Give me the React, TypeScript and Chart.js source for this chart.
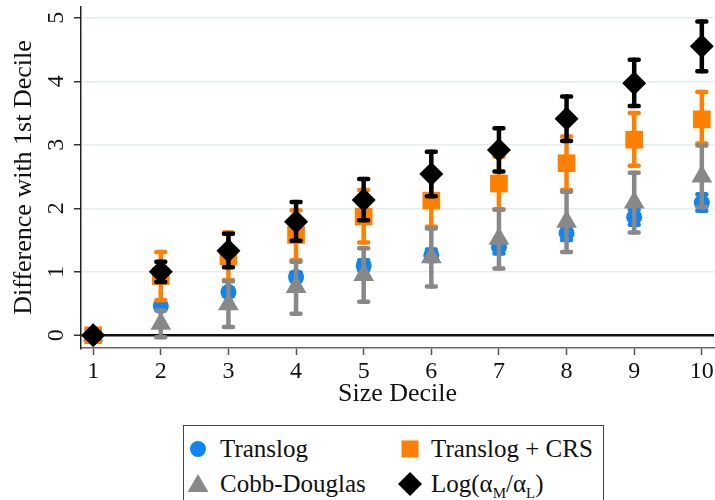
import React, { useEffect, useRef } from "react";
import { Chart, registerables } from "chart.js";

Chart.register(...registerables);

const FONT = "'Liberation Serif', 'Times New Roman', serif";

const deciles = [1, 2, 3, 4, 5, 6, 7, 8, 9, 10];
const yTickValues = [0, 1, 2, 3, 4, 5];

const translog = [0, 0.46, 0.68, 0.92, 1.1, 1.26, 1.39, 1.61, 1.86, 2.09];
const translogLo = [0, 0.41, 0.62, 0.85, 1.02, 1.17, 1.29, 1.5, 1.74, 1.96];
const translogHi = [0, 0.51, 0.74, 0.99, 1.18, 1.35, 1.49, 1.72, 1.98, 2.22];

const translogCRS = [0, 0.93, 1.24, 1.58, 1.87, 2.12, 2.39, 2.71, 3.08, 3.4];
const translogCRSLo = [0, 0.55, 0.87, 1.18, 1.46, 1.71, 1.98, 2.29, 2.67, 3.02];
const translogCRSHi = [0, 1.31, 1.62, 1.97, 2.29, 2.53, 2.81, 3.13, 3.5, 3.83];

const cobbDouglas = [0, 0.18, 0.49, 0.76, 0.95, 1.23, 1.52, 1.79, 2.09, 2.5];
const cobbDouglasLo = [0, -0.03, 0.13, 0.34, 0.53, 0.77, 1.05, 1.31, 1.62, 2.02];
const cobbDouglasHi = [0, 0.39, 0.85, 1.16, 1.37, 1.68, 1.98, 2.26, 2.56, 2.99];

const logRatio = [0, 1.0, 1.33, 1.79, 2.13, 2.54, 2.92, 3.41, 3.97, 4.55];
const logRatioLo = [0, 0.84, 1.07, 1.49, 1.81, 2.19, 2.58, 3.06, 3.61, 4.16];
const logRatioHi = [0, 1.16, 1.6, 2.1, 2.46, 2.89, 3.26, 3.76, 4.34, 4.94];

const BLUE = "#0f85f2";
const ORANGE = "#ff8000";
const GRAY = "#888888";
const BLACK = "#000000";

const errorBarPlugin = {
  id: "errorBars",
  beforeDatasetDraw(chart: any, args: any) {
    const ds: any = chart.data.datasets[args.index];
    if (!ds.errLo) return;
    const yScale = chart.scales.y;
    const ctx = chart.ctx;
    ctx.save();
    ctx.strokeStyle = ds.errColor;
    ctx.lineCap = "round";
    args.meta.data.forEach((pt: any, i: number) => {
      const lo = ds.errLo[i];
      const hi = ds.errHi[i];
      if (lo === hi) return;
      const x = pt.x;
      const y1 = yScale.getPixelForValue(lo);
      const y2 = yScale.getPixelForValue(hi);
      ctx.lineWidth = 4.5;
      ctx.beginPath();
      ctx.moveTo(x, y1);
      ctx.lineTo(x, y2);
      ctx.stroke();
      ctx.lineWidth = 4.5;
      ctx.beginPath();
      ctx.moveTo(x - 4.5, y1);
      ctx.lineTo(x + 4.5, y1);
      ctx.moveTo(x - 4.5, y2);
      ctx.lineTo(x + 4.5, y2);
      ctx.stroke();
    });
    ctx.restore();
  },
};

function toPoints(vals: number[]) {
  return deciles.map((d, i) => ({ x: d, y: vals[i] }));
}

function LegendMarker({ kind, color }: { kind: string; color: string }) {
  let shape: React.ReactNode = null;
  if (kind === "circle") shape = <circle cx={12} cy={12} r={8} fill={color} />;
  if (kind === "square") shape = <rect x={3.5} y={3.5} width={17} height={17} fill={color} />;
  if (kind === "triangle") shape = <polygon points="12,2 22.4,20 1.6,20" fill={color} />;
  if (kind === "diamond") shape = <polygon points="12,0 24,12 12,24 0,12" fill={color} />;
  return (
    <svg width={24} height={24} style={{ position: "absolute", left: -12, top: -12 }}>
      {shape}
    </svg>
  );
}

function LegendItem({ mx, my, tx, kind, color, children }: any) {
  return (
    <>
      <div style={{ position: "absolute", left: mx, top: my, width: 0, height: 0 }}>
        <LegendMarker kind={kind} color={color} />
      </div>
      <div
        style={{
          position: "absolute",
          left: tx,
          top: my - 16,
          height: 32,
          lineHeight: "32px",
          whiteSpace: "nowrap",
          color: "#111",
        }}
      >
        {children}
      </div>
    </>
  );
}

export default function App() {
  const canvasRef = useRef<HTMLCanvasElement | null>(null);

  useEffect(() => {
    if (!canvasRef.current) return;
    const chart = new Chart(canvasRef.current, {
      type: "scatter",
      data: {
        datasets: [
          {
            label: "Translog",
            data: toPoints(translog),
            errLo: translogLo,
            errHi: translogHi,
            errColor: BLUE,
            backgroundColor: BLUE,
            borderColor: BLUE,
            borderWidth: 0,
            pointStyle: "circle",
            pointRadius: 8,
            order: 4,
          } as any,
          {
            label: "Translog + CRS",
            data: toPoints(translogCRS),
            errLo: translogCRSLo,
            errHi: translogCRSHi,
            errColor: ORANGE,
            backgroundColor: ORANGE,
            borderColor: ORANGE,
            borderWidth: 0,
            pointStyle: "rect",
            pointRadius: 12.5,
            order: 3,
          } as any,
          {
            label: "Cobb-Douglas",
            data: toPoints(cobbDouglas),
            errLo: cobbDouglasLo,
            errHi: cobbDouglasHi,
            errColor: GRAY,
            backgroundColor: GRAY,
            borderColor: GRAY,
            borderWidth: 0,
            pointStyle: "triangle",
            pointRadius: 12,
            order: 2,
          } as any,
          {
            label: "Log(αM/αL)",
            data: toPoints(logRatio),
            errLo: logRatioLo,
            errHi: logRatioHi,
            errColor: BLACK,
            backgroundColor: BLACK,
            borderColor: BLACK,
            borderWidth: 0,
            pointStyle: "rectRot",
            pointRadius: 12,
            order: 1,
          } as any,
        ],
      },
      options: {
        animation: false,
        responsive: false,
        devicePixelRatio: 1,
        clip: false as any,
        layout: { autoPadding: false, padding: { left: 0, top: 7, right: 1, bottom: 86 } },
        plugins: {
          legend: { display: false },
          tooltip: { enabled: false },
        },
        scales: {
          x: {
            type: "linear",
            min: 0.82,
            max: 10.18,
            afterBuildTicks: (s: any) => {
              s.ticks = deciles.map((v) => ({ value: v }));
            },
            afterFit: (s: any) => {
              s.height = 66;
              s.paddingLeft = 0;
              s.paddingRight = 0;
              s.paddingTop = 0;
              s.paddingBottom = 0;
            },
            ticks: {
              autoSkip: false,
              maxRotation: 0,
              padding: 2,
              color: "#111",
              font: { family: FONT, size: 24 },
            },
            grid: {
              drawOnChartArea: false,
              drawTicks: true,
              tickLength: 7,
              tickColor: "#555",
              tickWidth: 1.5,
            },
            border: { display: true, color: "#666", width: 1.5 },
            title: {
              display: true,
              text: "Size Decile",
              color: "#111",
              font: { family: FONT, size: 26 },
              padding: { top: 0, bottom: 4 },
            },
          },
          y: {
            type: "linear",
            min: -0.2,
            max: 5.17,
            afterBuildTicks: (s: any) => {
              s.ticks = yTickValues.map((v) => ({ value: v }));
            },
            afterFit: (s: any) => {
              s.width = 81;
              s.paddingLeft = 0;
              s.paddingRight = 0;
              s.paddingTop = 0;
              s.paddingBottom = 0;
            },
            ticks: {
              minRotation: 90,
              maxRotation: 90,
              crossAlign: "center",
              padding: 11,
              color: "#111",
              font: { family: FONT, size: 24 },
            },
            grid: {
              drawOnChartArea: true,
              color: (c: any) => (c.tick && c.tick.value === 0 ? "#111" : "#e5edf0"),
              lineWidth: (c: any) => (c.tick && c.tick.value === 0 ? 2.5 : 1.5),
              tickLength: 7,
              tickColor: "#333",
              tickWidth: 1.5,
            },
            border: { display: true, color: "#222", width: 1.5 },
            title: {
              display: true,
              text: "Difference with 1st Decile",
              color: "#111",
              font: { family: FONT, size: 26 },
              padding: { top: 9, bottom: 0 },
            },
          },
        },
      },
      plugins: [errorBarPlugin],
    });
    return () => chart.destroy();
  }, []);

  return (
    <div
      style={{
        position: "absolute",
        left: 0,
        top: 0,
        width: 715,
        height: 500,
        overflow: "hidden",
        background: "#fff",
        fontFamily: FONT,
      }}
    >
      <canvas ref={canvasRef} width={715} height={500} style={{ display: "block", width: 715, height: 500 }} />
      <div
        style={{
          position: "absolute",
          left: 183,
          top: 425,
          width: 421,
          height: 100,
          border: "1px solid #444",
          background: "#fff",
          fontSize: 25,
          boxSizing: "border-box",
        }}
      >
        <LegendItem mx={14} my={23} tx={36} kind="circle" color={BLUE}>
          Translog
        </LegendItem>
        <LegendItem mx={226} my={23} tx={247} kind="square" color={ORANGE}>
          Translog + CRS
        </LegendItem>
        <LegendItem mx={14} my={58} tx={36} kind="triangle" color={GRAY}>
          Cobb-Douglas
        </LegendItem>
        <LegendItem mx={226} my={58} tx={247} kind="diamond" color={BLACK}>
          Log(α<sub style={{ fontSize: 15 }}>M</sub>/α<sub style={{ fontSize: 15 }}>L</sub>)
        </LegendItem>
      </div>
    </div>
  );
}
